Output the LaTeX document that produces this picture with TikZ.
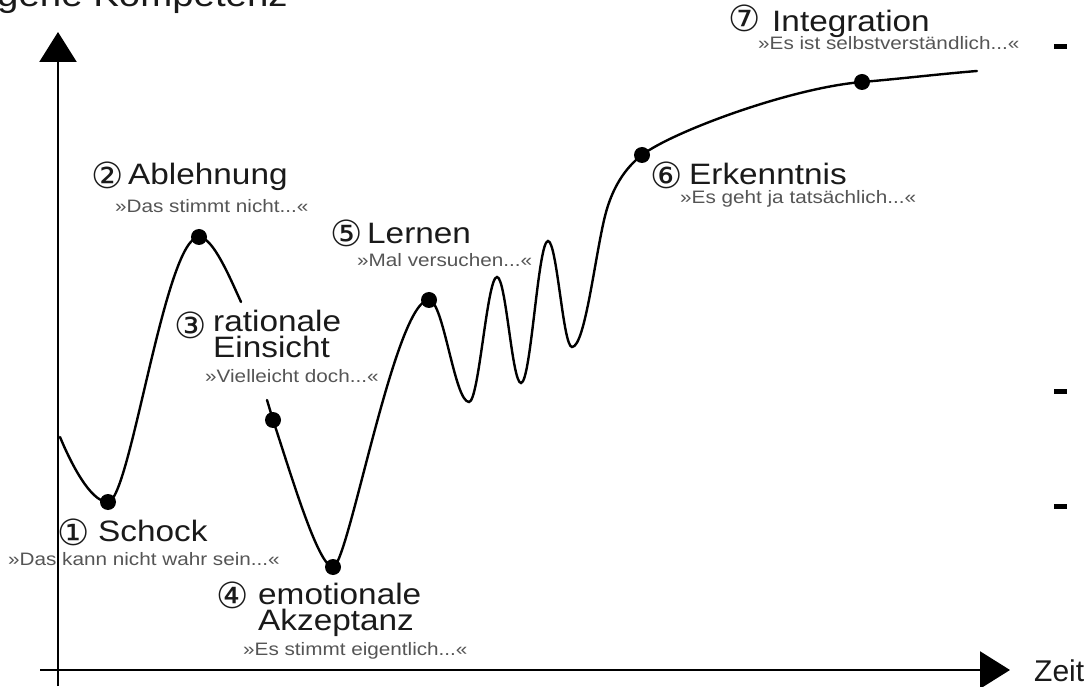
\documentclass[tikz,border=0pt]{standalone}
\usepackage{fontspec}
\setmainfont{Liberation Sans}
\newfontfamily\labfont[FakeStretch=1.13]{Liberation Sans}
\newfontfamily\subfont[FakeStretch=1.15]{Liberation Sans}
\newfontfamily\numfont{DejaVu Sans}
\usetikzlibrary{arrows.meta}
\definecolor{labcol}{HTML}{1A1A1A}
\definecolor{subcol}{HTML}{555555}
\begin{document}
\begin{tikzpicture}[x=1pt,y=1pt,
  lab/.style={anchor=base west, inner sep=0pt, text=labcol, font=\labfont\fontsize{29.5}{26}\selectfont},
  lab2/.style={lab, align=left},
  sub/.style={anchor=base west, inner sep=0pt, text=subcol, font=\subfont\fontsize{18}{18}\selectfont},
  num/.style={anchor=center, inner sep=0pt, text=labcol, font=\numfont\fontsize{36}{36}\selectfont},
  dot/.style={circle, fill=black, inner sep=0pt, minimum size=16pt},
  curve/.style={line width=2.4pt, line cap=round},
  axis/.style={line width=2.4pt, -{Triangle[length=30pt,width=37pt]}},
  tick/.style={fill=black},
]
\useasboundingbox (0,0) rectangle (1089,686);
\fill[white] (0,0) rectangle (1089,686);

% axes
\coordinate (yb) at (58,0);
\coordinate (yt) at (58,654);
\coordinate (xl) at (40,16);
\coordinate (xr) at (1010,16);
\draw[axis] (yb) -- (yt);
\draw[axis] (xl) -- (xr);
\node[lab, font=\labfont\fontsize{34}{34}\selectfont] (ylab) at (-3,679) {gene Kompetenz};
\node[lab, font=\fontsize{30}{30}\selectfont] (xlab) at (1034,5) {Zeit};

% curve points
\coordinate (c0) at (60,249);
\coordinate (p1) at (108,184);
\coordinate (p2) at (199,449);
\coordinate (c3) at (241,384);
\coordinate (c4) at (267,286);
\coordinate (p3) at (273,266);
\coordinate (p4) at (333,119);
\coordinate (p5) at (429,386);
\coordinate (t1) at (469,284);
\coordinate (h1) at (497,409);
\coordinate (t2) at (521,303);
\coordinate (h2) at (548,445);
\coordinate (t3) at (572,339);
\coordinate (m1) at (605,470);
\coordinate (p6) at (642,531);
\coordinate (p7) at (862,604);
\coordinate (c5) at (977,615);

\draw[curve] (c0) .. controls (70,225) and (90,184) .. (p1)
  .. controls (130,184) and (165,449) .. (p2)
  .. controls (213,449) and (230,408) .. (c3);
\draw[curve] (c4) -- (p3)
  .. controls (290,215) and (318,119) .. (p4)
  .. controls (348,119) and (395,386) .. (p5)
  .. controls (443.5,386) and (454.5,284) .. (t1)
  .. controls (479,284) and (487,409) .. (h1)
  .. controls (506,409) and (512,303) .. (t2)
  .. controls (531,303) and (538,445) .. (h2)
  .. controls (557,445) and (563,339) .. (t3)
  .. controls (585,339) and (595,430) .. (m1)
  .. controls (612,498) and (625,518) .. (p6)
  .. controls (672,554) and (790,598) .. (p7)
  .. controls (900,607.2) and (940,612) .. (c5);

\foreach \p in {p1,p2,p3,p4,p5,p6,p7} \node[dot] (d\p) at (\p) {};

% labels
\node[num] (n1) at (74,154) {①};
\node[lab] (l1) at (98,145) {Schock};
\node[sub] (s1) at (8,121) {»Das kann nicht wahr sein...«};

\node[num] (n2) at (108,511) {②};
\node[lab] (l2) at (128,501) {Ablehnung};
\node[sub] (s2) at (115,473) {»Das stimmt nicht...«};

\node[num] (n3) at (191,361) {③};
\node[lab2] (l3) at (213,328) {rationale\\Einsicht};
\node[sub] (s3) at (205,303) {»Vielleicht doch...«};

\node[num] (n4) at (233,91) {④};
\node[lab2] (l4) at (258,56) {emotionale\\Akzeptanz};
\node[sub] (s4) at (243,31) {»Es stimmt eigentlich...«};

\node[num] (n5) at (347,453) {⑤};
\node[lab] (l5) at (367,442) {Lernen};
\node[sub] (s5) at (357,419) {»Mal versuchen...«};

\node[num] (n6) at (667,511) {⑥};
\node[lab] (l6) at (689,501) {Erkenntnis};
\node[sub] (s6) at (680,482) {»Es geht ja tatsächlich...«};

\node[num] (n7) at (745,668) {⑦};
\node[lab] (l7) at (772,654) {Integration};
\node[sub] (s7) at (758,636) {»Es ist selbstverständlich...«};

% right-side ticks
\fill[tick] (1054,637) rectangle (1067,642);
\fill[tick] (1054,292) rectangle (1067,297);
\fill[tick] (1054,177) rectangle (1067,182);
\end{tikzpicture}
\end{document}
